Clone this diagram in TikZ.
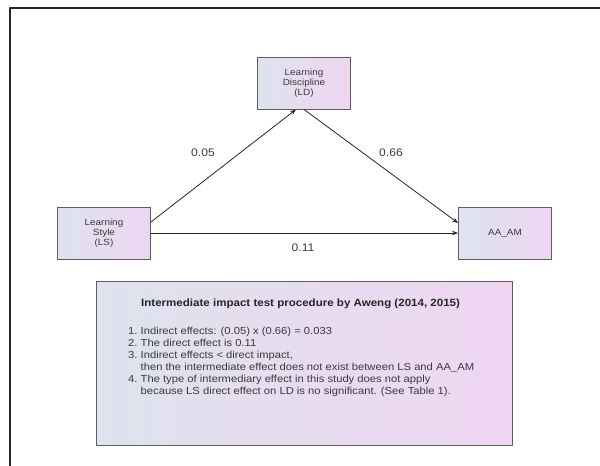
\documentclass[tikz,border=0pt]{standalone}
\usepackage{fontspec}
\setmainfont[FakeStretch=1.1]{Liberation Sans}
\usetikzlibrary{positioning,arrows.meta}
\definecolor{boxleft}{HTML}{DEE3EE}
\definecolor{boxright}{HTML}{EFD5F2}
\definecolor{boxline}{HTML}{5C5C5C}
\definecolor{inktext}{HTML}{3A3A3A}
\tikzset{
  varbox/.style={draw=boxline,line width=0.9pt,left color=boxleft,right color=boxright,
    minimum width=93pt,minimum height=52pt,align=center,inner sep=1pt,
    text=inktext,font=\fontsize{9}{10}\selectfont},
  notebox/.style={draw=boxline,line width=1pt,left color=boxleft,right color=boxright,
    minimum width=416pt,minimum height=164pt,inner sep=0pt},
  effect/.style={-{Stealth[length=6pt,width=4.5pt]},line width=0.8pt,draw=black!85},
  coef/.style={text=inktext,font=\fontsize{11}{12}\selectfont,inner sep=1pt}
}
\begin{document}
\begin{tikzpicture}[x=1pt,y=-1pt,line cap=round,line join=round]
  \useasboundingbox (0,0) rectangle (600,466);
  % frame
  \draw[line width=1.2pt,black!85] (600,8) -- (10,8) -- (10,466);
  % variables
  \node[varbox] (LS) at (104,233) {Learning\\Style\\(LS)};
  \node[varbox] (LD) at (304,83) {Learning\\Discipline\\(LD)};
  \node[varbox] (AA) at (505,233) {AA\_AM};
  % paths
  \draw[effect] ([yshift=11pt]LS.east) -- ([xshift=-8pt]LD.south);
  \draw[effect] (LD.south) -- ([yshift=10pt]AA.west);
  \draw[effect] (LS.east) -- (AA.west);
  \node[coef] (cLSLD) at (203,153) {0.05};
  \node[coef] (cLDAA) at (391,153) {0.66};
  \node[coef] (cLSAA) at (303,248) {0.11};
  % procedure note
  \node[notebox] (note) at (304,363) {};
  \node[anchor=west,inner sep=0pt,text=black!85,font=\bfseries\fontsize{10.5}{12}\selectfont]
    (title) at (141,304) {Intermediate impact test procedure by Aweng (2014, 2015)};
  \node[anchor=north west,inner sep=0pt,text=inktext,font=\fontsize{10.2}{12}\selectfont]
    (steps) at (128,326) {\begin{tabular}{@{}r@{\ }l@{}}
      1. & Indirect effects: (0.05) x (0.66) = 0.033\\
      2. & The direct effect is 0.11\\
      3. & Indirect effects < direct impact,\\
         & then the intermediate effect does not exist between LS and AA\_AM\\
      4. & The type of intermediary effect in this study does not apply\\
         & because LS direct effect on LD is no significant. (See Table 1).
    \end{tabular}};
\end{tikzpicture}
\end{document}
